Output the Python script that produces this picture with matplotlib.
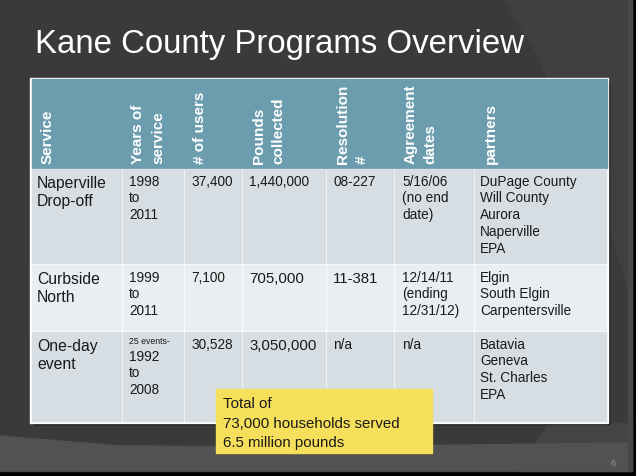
import matplotlib
matplotlib.use("Agg")
import matplotlib.pyplot as plt
from matplotlib.patches import Rectangle, Polygon

# --- table content ---
headers = [["Service"], ["Years of", "service"], ["# of users"], ["Pounds", "collected"],
           ["Resolution", "#"], ["Agreement", "dates"], ["partners"]]
services = [["Naperville", "Drop-off"], ["Curbside", "North"], ["One-day", "event"]]
years_note = ["", "", "25 events-"]
years = [["1998", "to", "2011"], ["1999", "to", "2011"], ["1992", "to", "2008"]]
users = ["37,400", "7,100", "30,528"]
pounds = ["1,440,000", "705,000", "3,050,000"]
resolutions = ["08-227", "11-381", "n/a"]
agreements = [["5/16/06", "(no end", "date)"], ["12/14/11", "(ending", "12/31/12)"], ["n/a"]]
partners = [["DuPage County", "Will County", "Aurora", "Naperville", "EPA"],
            ["Elgin", "South Elgin", "Carpentersville"],
            ["Batavia", "Geneva", "St. Charles", "EPA"]]
totals = ["Total of", "73,000 households served", "6.5 million pounds"]
title = "Kane County Programs Overview"
page_no = "6"

# --- layout (pixels) ---
W, H = 636, 476
col_x = [31, 122, 184, 242, 326, 394, 474, 607]
row_y = [79, 168, 264, 331, 422]
row_colors = ["#d6dee3", "#e9eef1", "#d6dee3"]
header_color = "#6c9dae"
FONT = "Liberation Sans"
small, big, svc = 9.8, 10.8, 11.3
pounds_size = [small, big, big]
res_size = [small, big, small]

fig = plt.figure(figsize=(W / 100, H / 100), dpi=100)
fig.patch.set_facecolor("black")
ax = fig.add_axes([0, 0, 1, 1])
ax.set_xlim(0, W)
ax.set_ylim(H, 0)
ax.axis("off")

# slide background
ax.add_patch(Rectangle((0, 0), 632, 471, color="#3a3a3a", zorder=0))
ax.add_patch(Polygon([(505, 0), (632, 0), (632, 300), (600, 200), (540, 60)],
                     closed=True, color="#404040", zorder=0))
ax.add_patch(Polygon([(548, 423), (632, 423), (632, 471), (517, 471)],
                     closed=True, color="#444444", zorder=0))
ax.add_patch(Polygon([(0, 436), (120, 446), (300, 447), (632, 443), (632, 471), (0, 471)],
                     closed=True, color="#525252", zorder=0))
ax.add_patch(Rectangle((628, 0), 4, 471, color="#484848", zorder=0))

# table frame
x0, x1 = col_x[0], col_x[-1]
ax.add_patch(Rectangle((x0 + 1.5, row_y[0] + 1.5), x1 - x0, row_y[-1] - row_y[0],
                       color="#111111", zorder=1))
ax.add_patch(Rectangle((x0 - 1, row_y[0] - 1), x1 - x0 + 2, row_y[-1] - row_y[0] + 2,
                       color="white", zorder=1))

# header cells
for c in range(len(headers)):
    ax.add_patch(Rectangle((col_x[c] + 0.5, row_y[0]), col_x[c + 1] - col_x[c] - 1,
                           row_y[1] - row_y[0], color=header_color, zorder=2))
    for k, line in enumerate(headers[c]):
        ax.text(col_x[c] + 16.5 + 19.5 * k, row_y[1] - 4, line, rotation=90,
                ha="center", va="bottom", color="white", fontsize=11,
                fontweight="bold", family=FONT, zorder=3)

# body cells
for r in range(3):
    top, bot = row_y[r + 1] + 1, row_y[r + 2] - 1
    for c in range(len(headers)):
        ax.add_patch(Rectangle((col_x[c] + 0.7, top), col_x[c + 1] - col_x[c] - 1.4,
                               bot - top, color=row_colors[r], zorder=2))


def put_lines(x, top, lines, size, step, start=None):
    px = size * 100 / 72
    y = top + 4.5 + 0.9 * px if start is None else start
    for k, line in enumerate(lines):
        ax.text(x, y + step * k, line, ha="left", va="baseline", fontsize=size,
                family=FONT, color="#1a1a1a", zorder=3)


for r in range(3):
    top = row_y[r + 1] + 1
    put_lines(col_x[0] + 6, top, services[r], svc, 18.5)
    if years_note[r]:
        ax.text(col_x[1] + 7, top + 12, years_note[r], ha="left", va="baseline",
                fontsize=6.3, family=FONT, color="#1a1a1a", zorder=3)
        put_lines(col_x[1] + 7, top, years[r], small, 16.3, start=top + 29)
    else:
        put_lines(col_x[1] + 7, top, years[r], small, 16.7)
    put_lines(col_x[2] + 7, top, [users[r]], small, 16.7)
    put_lines(col_x[3] + 7, top, [pounds[r]], pounds_size[r], 16.7)
    put_lines(col_x[4] + 7, top, [resolutions[r]], res_size[r], 16.7)
    put_lines(col_x[5] + 8, top, agreements[r], small, 16.7)
    put_lines(col_x[6] + 6, top, partners[r], small, 16.7)

# totals callout
ax.add_patch(Rectangle((216, 389), 216, 64, color="#f6df5a", zorder=4))
for k, line in enumerate(totals):
    ax.text(223, 408.5 + 19 * k, line, ha="left", va="baseline", fontsize=10.8,
            family=FONT, color="#1a1a1a", zorder=5)

# title and page number
ax.text(35, 53, title, ha="left", va="baseline", fontsize=23.8, family=FONT,
        color="white", zorder=3)
ax.text(613, 466, page_no, ha="center", va="baseline", fontsize=6.5, family=FONT,
        color="#9a9a9a", zorder=3)

fig.savefig("out.png", dpi=100, facecolor=fig.get_facecolor())
